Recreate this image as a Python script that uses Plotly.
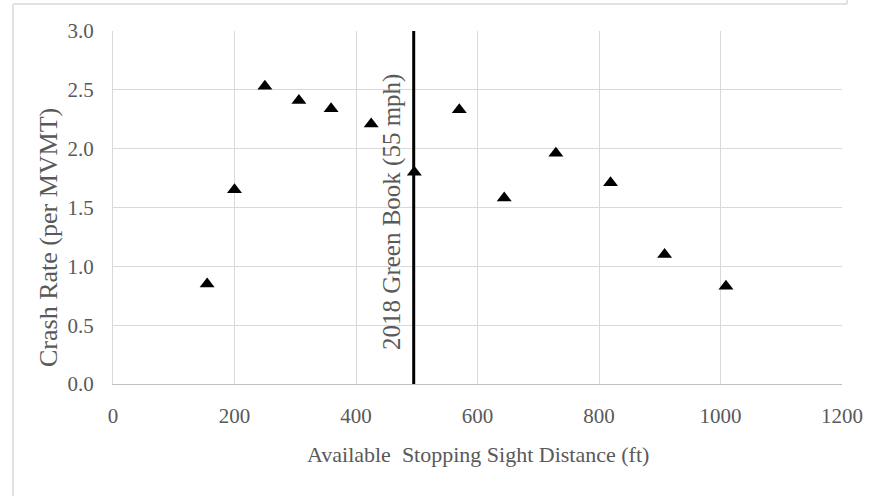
import plotly.graph_objects as go

ssd_ft = [155, 200, 250, 306, 359, 425, 496, 570, 644, 729, 819, 908, 1009]
crash_rate = [0.85, 1.65, 2.53, 2.41, 2.34, 2.21, 1.80, 2.33, 1.58, 1.96, 1.71, 1.10, 0.83]
green_book_ssd = 495
x_ticks = [0, 200, 400, 600, 800, 1000, 1200]
y_ticks = [0.0, 0.5, 1.0, 1.5, 2.0, 2.5, 3.0]

FONT = "Liberation Serif, Times New Roman, serif"
GREY = "#595959"
GRID = "#d9d9d9"

L, R, T, B = 113, 32, 31, 112
W, H = 874, 496
PW, PH = W - L - R, H - T - B


def px_x(px):
    return (px - L) / PW


def px_y(py):
    return (H - B - py) / PH


fig = go.Figure()
fig.add_trace(go.Scatter(
    x=ssd_ft, y=crash_rate, mode="markers",
    marker=dict(symbol="triangle-up", size=13, color="black", line=dict(width=0)),
    showlegend=False,
))
fig.add_trace(go.Scatter(
    x=[green_book_ssd, green_book_ssd], y=[0, 3], mode="lines",
    line=dict(color="black", width=3), showlegend=False,
))
fig.add_annotation(
    x=green_book_ssd, y=1.46, xref="x", yref="y",
    text="2018 Green Book (55 mph)", textangle=-90, showarrow=False,
    xanchor="right", yanchor="middle", xshift=-6,
    font=dict(family=FONT, size=25, color=GREY),
)
# axis titles
fig.add_annotation(
    x=px_x(48), y=px_y(238), xref="paper", yref="paper",
    text="Crash Rate (per MVMT)", textangle=-90, showarrow=False,
    xanchor="center", yanchor="middle",
    font=dict(family=FONT, size=26, color=GREY),
)
fig.add_annotation(
    x=px_x(478), y=px_y(455), xref="paper", yref="paper",
    text="Available\u00a0 Stopping Sight Distance (ft)", showarrow=False,
    xanchor="center", yanchor="middle",
    font=dict(family=FONT, size=22, color=GREY),
)
# outer chart frame (partially visible)
fig.add_shape(type="line", xref="paper", yref="paper",
              x0=px_x(13), x1=px_x(847), y0=px_y(4), y1=px_y(4),
              line=dict(color=GRID, width=1.5))
fig.add_shape(type="line", xref="paper", yref="paper",
              x0=px_x(13), x1=px_x(13), y0=px_y(520), y1=px_y(4),
              line=dict(color=GRID, width=1.5))
fig.add_shape(type="line", xref="paper", yref="paper",
              x0=px_x(847), x1=px_x(847), y0=px_y(0), y1=px_y(4),
              line=dict(color=GRID, width=1.5))
fig.update_layout(
    width=W, height=H,
    margin=dict(l=L, r=R, t=T, b=B),
    paper_bgcolor="white", plot_bgcolor="white",
    font=dict(family=FONT, color=GREY, size=21),
    xaxis=dict(
        range=[0, 1200], tickvals=x_ticks, ticktext=[str(v) for v in x_ticks],
        showgrid=True, gridcolor=GRID, gridwidth=1,
        showline=True, linecolor="#bfbfbf", linewidth=1,
        zeroline=False, ticks="", ticklabelstandoff=13,
        tickfont=dict(family=FONT, size=21, color=GREY),
    ),
    yaxis=dict(
        range=[0, 3], tickvals=y_ticks, ticktext=[f"{v:.1f}" for v in y_ticks],
        showgrid=True, gridcolor=GRID, gridwidth=1,
        showline=True, linecolor=GRID, linewidth=1,
        zeroline=False, ticks="", ticklabelstandoff=14,
        tickfont=dict(family=FONT, size=21, color=GREY),
    ),
)
fig.write_html("out.html")
